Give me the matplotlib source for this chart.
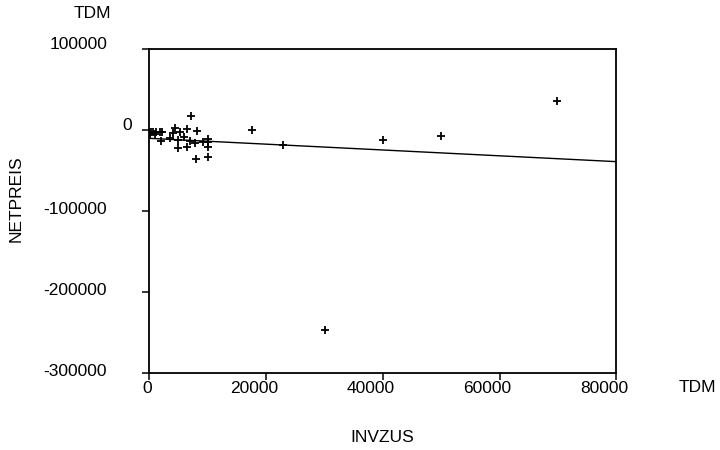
import matplotlib
matplotlib.use('Agg')
import matplotlib.pyplot as plt
import matplotlib.transforms as mtrans

plt.rcParams['font.family'] = ['Liberation Sans', 'DejaVu Sans']

# investment sum vs net price, both in TDM
invzus = [0, 300, 700, 1200, 1800, 2300, 200, 1000,
          4450, 4150, 5300, 6550, 8150, 7150,
          2000, 3600, 5000, 6050, 7000, 7900, 9200,
          10150, 10150, 10150, 5000, 6550, 8050, 10150,
          17600, 23000, 30150, 40100, 50000, 69850]
netpreis = [-1900, -2100, -2300, -2000, -2400, -2600, -4900, -4900,
            2500, -3700, -2500, 1600, -1600, 16900,
            -13200, -9800, -12700, -9000, -13900, -16000, -14800,
            -10700, -15100, -21300, -22200, -20900, -35700, -33200,
            400, -18500, -247400, -12700, -7400, 35300]

# regression line endpoints
fit_x = [0, 80000]
fit_y = [-10200, -39000]

xticks = [0, 20000, 40000, 60000, 80000]
yticks = [-300000, -200000, -100000, 0, 100000]

FS = 12.5

fig = plt.figure(figsize=(7.2, 4.5), dpi=100)
ax = fig.add_axes([0.207, 0.171, 0.649, 0.72])

ax.plot(invzus, netpreis, '+', color='black', markersize=6, markeredgewidth=1.3)
ax.plot(fit_x, fit_y, '-', color='black', linewidth=1)

ax.set_xlim(0, 80000)
ax.set_ylim(-300000, 100000)
ax.set_xticks(xticks)
ax.set_yticks(yticks)
ax.set_xticklabels([])
ax.set_yticklabels([])

for s in ax.spines.values():
    s.set_linewidth(1.3)
    s.set_color('black')

ax.tick_params(axis='both', direction='out', length=5, width=1.1)

def px(dx, dy):
    # shift in pixels (dpi 100)
    return mtrans.ScaledTranslation(dx / 100, dy / 100, fig.dpi_scale_trans)

# tick labels placed by hand, the old printout has them a bit off the ticks
xtr = mtrans.blended_transform_factory(ax.transData, ax.transAxes)
for v in xticks:
    dx = -2 if v == 0 else -12
    ax.text(v, 0, str(v), transform=xtr + px(dx, -15), ha='center', va='center',
            fontsize=FS)

ytr = mtrans.blended_transform_factory(ax.transAxes, ax.transData)
for v in yticks:
    dx = -17 if v == 0 else -42
    dy = 5 if v >= 0 else 2
    ax.text(0, v, str(v), transform=ytr + px(dx, dy), ha='right', va='center',
            fontsize=FS)

fig.text(0.5313, 0.027, 'INVZUS', ha='center', va='center', fontsize=FS)
fig.text(0.023, 0.558, 'NETPREIS', ha='center', va='center', rotation=90, fontsize=FS)
fig.text(0.128, 0.969, 'TDM', ha='center', va='center', fontsize=FS)
fig.text(0.968, 0.138, 'TDM', ha='center', va='center', fontsize=FS)

fig.savefig('out.png', dpi=100)
